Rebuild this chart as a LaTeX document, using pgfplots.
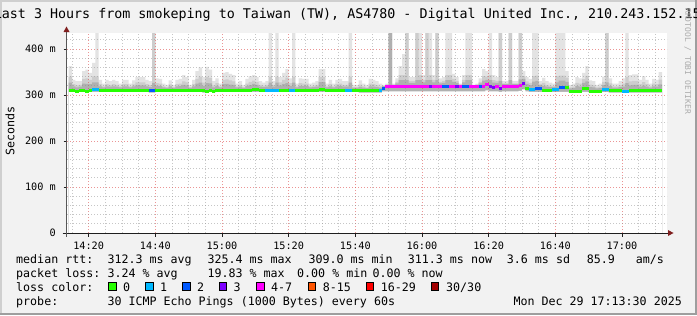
\documentclass[border=0pt]{standalone}
\usepackage{fontspec}
\setmainfont{DejaVu Sans Mono}
\usepackage{pgfplots}
\pgfplotsset{compat=1.18}
\usepackage{pgfplotstable}

\definecolor{bgc}{HTML}{F2F2F2}
\definecolor{shadea}{HTML}{CFCFCF}
\definecolor{shadeb}{HTML}{9E9E9E}
\definecolor{gridc}{HTML}{8F8F8F}
\definecolor{mgridc}{HTML}{DE4F4F}
\definecolor{arrowc}{HTML}{801F1F}
\definecolor{axisc}{HTML}{1F1F1F}
\definecolor{lc0}{HTML}{26FF00}
\definecolor{lc1}{HTML}{00B8FF}
\definecolor{lc2}{HTML}{0059FF}
\definecolor{lc3}{HTML}{7E00FF}
\definecolor{lc4}{HTML}{FF00FF}
\definecolor{lc8}{HTML}{FF5500}
\definecolor{lc16}{HTML}{FF0000}
\definecolor{lc30}{HTML}{A10000}
\definecolor{smokeL}{HTML}{E3E3E3}
\definecolor{smokeM}{HTML}{CDCDCD}
\definecolor{smokeD}{HTML}{B0B0B0}
\definecolor{wmark}{HTML}{ABABAB}

\newcommand{\tf}{\fontsize{13.34bp}{16bp}\selectfont}
\newcommand{\lf}{\fontsize{11.65bp}{14bp}\selectfont}
\newcommand{\af}{\fontsize{10.2bp}{12bp}\selectfont}

% x = minute after 14:00 (column start), top = max ping, med = median rtt,
% lo = min ping, c = loss colour class, t = tall smoke type
\pgfplotstableread{
x top med lo c t
14 363 310 306 0 0
15 333 310 306 0 0
16 330 308 305 0 0
17 330 310 306 0 0
18 352 310 306 0 0
19 355 308 305 0 0
20 348 310 306 0 0
21 370 311 307 1 0
22 435 311 307 1 0
23 333 310 306 0 0
24 325 310 306 0 0
25 333 310 306 0 0
26 330 310 306 0 0
27 333 310 306 0 0
28 330 310 306 0 0
29 325 310 306 0 0
30 333 310 306 0 0
31 333 310 306 0 0
32 325 310 306 0 0
33 332 310 306 0 0
34 339 310 306 0 0
35 339 310 306 0 0
36 339 310 306 0 0
37 333 310 306 0 0
38 330 309 305 2 0
39 435 309 305 2 1
40 336 310 306 0 0
41 335 310 306 0 0
42 325 310 306 0 0
43 322 310 306 0 0
44 332 310 306 0 0
45 322 310 306 0 0
46 333 310 306 0 0
47 335 310 306 0 0
48 343 310 306 0 0
49 339 310 306 0 0
50 322 310 306 0 0
51 333 310 306 0 0
52 352 310 306 0 0
53 360 310 306 0 0
54 339 309 305 0 0
55 361 308 305 0 0
56 355 310 306 0 0
57 330 308 305 0 0
58 336 310 306 0 0
59 325 310 306 0 0
60 348 310 306 0 0
61 350 310 306 0 0
62 346 310 306 0 0
63 343 310 306 0 0
64 325 310 306 0 0
65 330 310 306 0 0
66 322 310 306 0 0
67 335 310 306 0 0
68 341 310 306 0 0
69 343 313 307 0 0
70 339 312 307 0 0
71 330 310 306 0 0
72 327 310 306 0 0
73 330 310 306 1 0
74 435 310 306 1 0
75 330 310 306 1 0
76 435 310 306 1 0
77 339 310 306 0 0
78 348 310 306 0 0
79 356 310 306 0 0
80 336 310 306 1 0
81 435 310 306 1 0
82 325 310 306 0 0
83 336 310 306 0 0
84 335 310 306 0 0
85 335 310 306 0 0
86 325 310 306 0 0
87 327 310 306 0 0
88 330 310 306 0 0
89 356 313 307 0 0
90 356 313 307 0 0
91 325 310 306 0 0
92 333 310 306 0 0
93 325 310 306 0 0
94 333 310 306 0 0
95 335 310 306 0 0
96 330 310 306 0 0
97 330 310 306 1 0
98 435 310 306 1 0
99 322 310 306 0 0
100 322 310 306 0 0
101 332 309 305 0 0
102 325 309 305 0 0
103 322 309 305 0 0
104 335 309 305 0 0
105 333 309 305 0 0
106 330 309 305 0 0
107 325 309 305 1 0
108 322 315 308 2 0
109 325 318 308 4 0
110 435 318 308 4 2
111 325 318 308 4 0
112 336 318 308 4 0
113 363 318 308 4 0
114 389 318 308 4 0
115 435 318 308 4 1
116 339 318 308 4 0
117 339 318 308 4 0
118 435 318 308 4 1
119 435 318 308 4 0
120 343 318 308 4 0
121 435 318 308 4 1
122 435 318 308 3 0
123 343 318 308 4 0
124 435 318 308 4 1
125 336 318 308 4 0
126 339 318 308 2 0
127 435 318 308 2 0
128 435 318 308 4 0
129 346 318 308 4 0
130 339 318 308 3 0
131 325 318 308 4 0
132 343 318 308 2 0
133 435 318 308 2 0
134 435 318 308 4 0
135 322 318 308 4 0
136 325 318 308 4 0
137 336 318 308 2 0
138 356 318 308 4 0
139 352 322 310 4 0
140 435 318 308 3 0
141 343 317 308 3 0
142 339 318 308 4 0
143 435 315 307 3 1
144 330 318 308 4 0
145 330 318 308 4 0
146 435 318 308 4 1
147 330 318 308 4 0
148 330 318 308 4 0
149 435 320 309 4 1
150 352 325 312 3 0
151 339 315 308 0 0
152 335 313 307 1 0
153 435 313 307 1 0
154 435 315 307 2 0
155 330 315 307 2 0
156 337 310 306 0 0
157 330 310 306 0 0
158 327 310 306 0 0
159 325 311 306 1 0
160 435 311 306 1 0
161 435 316 307 2 0
162 435 316 307 2 0
163 352 316 307 0 0
164 322 308 305 0 0
165 325 308 305 0 0
166 339 308 305 0 0
167 336 308 305 0 0
168 348 314 307 0 0
169 363 314 307 0 0
170 332 308 305 0 0
171 330 308 305 0 0
172 322 308 305 0 0
173 325 308 305 0 0
174 340 311 306 1 0
175 435 311 306 1 1
176 336 309 305 0 0
177 325 309 305 0 0
178 325 309 305 0 0
179 330 309 305 0 0
180 336 308 305 1 0
181 435 308 305 1 0
182 343 309 305 0 0
183 345 309 305 0 0
184 345 309 305 0 0
185 333 309 305 0 0
186 341 309 305 0 0
187 333 309 305 0 0
188 325 309 305 0 0
189 335 309 305 0 0
190 333 309 305 0 0
191 350 309 305 0 0
192 350 309 305 9 0
}\smoke

\begin{document}
\begin{tikzpicture}[x=1bp,y=1bp]
\useasboundingbox (0,0) rectangle (697,315);
\clip (0,0) rectangle (697,315);
% canvas and 3D frame
\fill[bgc] (0,0) rectangle (697,315);
\fill[shadea] (0,0) rectangle (2,315);
\fill[shadea] (0,313) rectangle (697,315);
\fill[shadeb] (694.5,0) rectangle (697,315);
\fill[shadeb] (0,0) rectangle (697,2.5);
% plot canvas
\fill[white] (67,82) rectangle (667,282);

\begin{axis}[
  at={(67bp,82bp)}, anchor=south west,
  scale only axis, width=600bp, height=200bp,
  xmin=13.5, xmax=193.5, ymin=0, ymax=434.8,
  axis on top,
  axis line style={draw=none},
  xtick={20,40,...,180},
  xticklabels={14:20,14:40,15:00,15:20,15:40,16:00,16:20,16:40,17:00},
  minor xtick={15,25,30,35,45,50,55,65,70,75,85,90,95,105,110,115,125,130,135,145,150,155,165,170,175,185,190},
  ytick={0,100,200,300,400},
  yticklabels={0,100 m,200 m,300 m,400 m},
  minor ytick={20,40,60,80,120,140,160,180,220,240,260,280,320,340,360,380,420},
  grid=both,
  major grid style={draw=mgridc, draw opacity=0.6, dash pattern=on 1bp off 2bp, line width=0.8bp},
  minor grid style={draw=gridc, draw opacity=0.5, dash pattern=on 1bp off 2bp, line width=0.8bp},
  xtick pos=left, ytick pos=left,
  tick align=outside, major tick length=3.5bp, minor tick length=0pt,
  major tick style={draw=axisc, line width=1bp},
  xticklabel style={font=\af, anchor=base, inner sep=0pt, yshift=-13.3bp},
  yticklabel style={font=\af, anchor=east, inner sep=0pt, xshift=-7.5bp},
]
% smoke layers
\addplot[draw=none, fill=smokeL, const plot mark left] table[x=x, y=top] {\smoke} \closedcycle;
\addplot[draw=none, fill=smokeM, const plot mark left] table[x=x,
  y expr={\thisrow{t}>0 ? \thisrow{top} : \thisrow{med}+0.6*(min(\thisrow{top},360)-\thisrow{med})}] {\smoke} \closedcycle;
\addplot[draw=none, fill=smokeD, const plot mark left] table[x=x,
  y expr={\thisrow{t}>1 ? \thisrow{top} : \thisrow{med}+0.3*(min(\thisrow{top},360)-\thisrow{med})+2}] {\smoke} \closedcycle;
\addplot[draw=none, fill=white, const plot mark left] table[x=x, y=lo] {\smoke} \closedcycle;
% median rtt, coloured by loss
\addplot[color=lc0, only marks, mark=-, mark size=1.72bp, mark options={line width=3bp}, restrict expr to domain={\thisrow{c}}{-0.5:0.5}] table[x expr=\thisrow{x}+0.5, y=med] {\smoke};
\addplot[color=lc1, only marks, mark=-, mark size=1.72bp, mark options={line width=3bp}, restrict expr to domain={\thisrow{c}}{0.5:1.5}] table[x expr=\thisrow{x}+0.5, y=med] {\smoke};
\addplot[color=lc2, only marks, mark=-, mark size=1.72bp, mark options={line width=3bp}, restrict expr to domain={\thisrow{c}}{1.5:2.5}] table[x expr=\thisrow{x}+0.5, y=med] {\smoke};
\addplot[color=lc3, only marks, mark=-, mark size=1.72bp, mark options={line width=3bp}, restrict expr to domain={\thisrow{c}}{2.5:3.5}] table[x expr=\thisrow{x}+0.5, y=med] {\smoke};
\addplot[color=lc4, only marks, mark=-, mark size=1.72bp, mark options={line width=3bp}, restrict expr to domain={\thisrow{c}}{3.5:4.5}] table[x expr=\thisrow{x}+0.5, y=med] {\smoke};
\end{axis}

% axes with arrows
\draw[axisc, line width=1bp] (62.5,82) -- (669,82);
\fill[arrowc] (668,79) -- (673.5,82) -- (668,85) -- cycle;
\draw[axisc!75, line width=1bp] (66.5,78.5) -- (66.5,284);
\fill[arrowc] (63.5,283) -- (66.5,288.5) -- (69.5,283) -- cycle;

% title
\node[anchor=base west, inner sep=0pt, font=\tf] at (-6.3,296.5) {Last 3 Hours from smokeping to Taiwan (TW), AS4780 - Digital United Inc., 210.243.152.15};
% y label
\node[rotate=90, anchor=center, inner sep=0pt, font=\lf] at (10,184) {Seconds};
% watermark
\node[rotate=-90, anchor=base west, inner sep=0pt, text=wmark, font=\fontsize{8bp}{9bp}\selectfont] at (685,307) {RRDTOOL / TOBI OETIKER};

% legend rows
\begin{scope}[every node/.style={anchor=base west, inner sep=0pt, font=\lf}]
\node at (16,51.5) {median rtt:};
\node at (107.3,51.5) {312.3 ms avg};
\node at (207.3,51.5) {325.4 ms max};
\node at (308.3,51.5) {309.0 ms min};
\node at (407.7,51.5) {311.3 ms now};
\node at (506.7,51.5) {3.6 ms sd};
\node at (586.7,51.5) {85.9};
\node at (635.7,51.5) {am/s};

\node at (16,37.5) {packet loss:};
\node at (107.3,37.5) {3.24 \% avg};
\node at (207.3,37.5) {19.83 \% max};
\node at (297,37.5) {0.00 \% min};
\node at (372.3,37.5) {0.00 \% now};

\node at (16,24) {loss color:};
\node at (123,24) {0};
\node at (160,24) {1};
\node at (197,24) {2};
\node at (233.3,24) {3};
\node at (271,24) {4-7};
\node at (322.7,24) {8-15};
\node at (380.7,24) {16-29};
\node at (446,24) {30/30};

\node at (16,10) {probe:};
\node at (107.3,10) {30 ICMP Echo Pings (1000 Bytes) every 60s};
\node at (513.3,10) {Mon Dec 29 17:13:30 2025};
\end{scope}
\begin{scope}[line width=1bp, draw=black]
\filldraw[fill=lc0]  (108.8,25) rectangle (116.2,32.5);
\filldraw[fill=lc1]  (145.8,25) rectangle (153.2,32.5);
\filldraw[fill=lc2]  (182.8,25) rectangle (190.2,32.5);
\filldraw[fill=lc3]  (219.2,25) rectangle (226.6,32.5);
\filldraw[fill=lc4]  (256.8,25) rectangle (264.2,32.5);
\filldraw[fill=lc8]  (308.5,25) rectangle (315.9,32.5);
\filldraw[fill=lc16] (366.2,25) rectangle (373.6,32.5);
\filldraw[fill=lc30] (431.2,25) rectangle (438.6,32.5);
\end{scope}
\end{tikzpicture}
\end{document}
